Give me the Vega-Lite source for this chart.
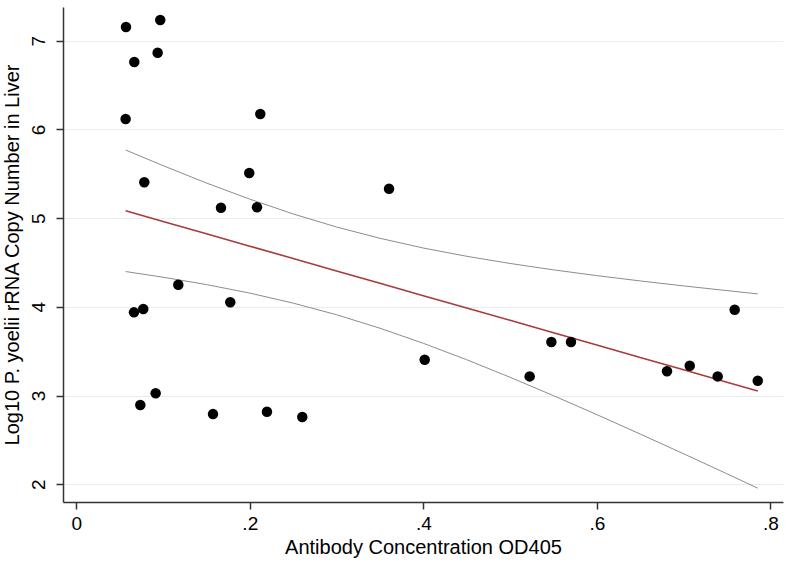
{
  "$schema": "https://vega.github.io/schema/vega-lite/v6.json",
  "width": 720,
  "height": 495,
  "autosize": "none",
  "padding": {"left": 63, "top": 7, "right": 7, "bottom": 62},
  "background": "white",
  "config": {
    "view": {"stroke": null},
    "font": "Liberation Sans",
    "axis": {
      "domainColor": "#333333",
      "domainWidth": 1.5,
      "tickColor": "#333333",
      "tickWidth": 1.5,
      "tickSize": 7,
      "labelColor": "#000000",
      "labelFontSize": 19,
      "titleColor": "#000000",
      "titleFontSize": 20,
      "titleFontWeight": "normal",
      "labelFont": "Liberation Sans",
      "titleFont": "Liberation Sans"
    }
  },
  "datasets": {
    "pts": [
      {"x": 0.0573, "y": 7.155}, {"x": 0.0968, "y": 7.233}, {"x": 0.0669, "y": 6.760},
      {"x": 0.0938, "y": 6.865}, {"x": 0.0569, "y": 6.117}, {"x": 0.2121, "y": 6.174},
      {"x": 0.0784, "y": 5.404}, {"x": 0.1994, "y": 5.508}, {"x": 0.3605, "y": 5.331},
      {"x": 0.1668, "y": 5.117}, {"x": 0.2083, "y": 5.122}, {"x": 0.1176, "y": 4.249},
      {"x": 0.1775, "y": 4.051}, {"x": 0.0665, "y": 3.938}, {"x": 0.0772, "y": 3.975},
      {"x": 0.0738, "y": 2.893}, {"x": 0.0915, "y": 3.025}, {"x": 0.1576, "y": 2.791},
      {"x": 0.2198, "y": 2.817}, {"x": 0.2605, "y": 2.758}, {"x": 0.4016, "y": 3.404},
      {"x": 0.5226, "y": 3.216}, {"x": 0.5476, "y": 3.603}, {"x": 0.5702, "y": 3.603},
      {"x": 0.6809, "y": 3.273}, {"x": 0.7071, "y": 3.336}, {"x": 0.7393, "y": 3.216},
      {"x": 0.7589, "y": 3.967}, {"x": 0.7855, "y": 3.167}
    ],
    "fit": [
      {"x": 0.0569, "fit": 5.083, "lo": 4.398, "hi": 5.768},
      {"x": 0.1, "fit": 4.963, "lo": 4.334, "hi": 5.592},
      {"x": 0.15, "fit": 4.824, "lo": 4.251, "hi": 5.396},
      {"x": 0.2, "fit": 4.684, "lo": 4.155, "hi": 5.214},
      {"x": 0.25, "fit": 4.545, "lo": 4.042, "hi": 5.047},
      {"x": 0.3, "fit": 4.405, "lo": 3.911, "hi": 4.900},
      {"x": 0.35, "fit": 4.266, "lo": 3.759, "hi": 4.773},
      {"x": 0.4, "fit": 4.126, "lo": 3.589, "hi": 4.663},
      {"x": 0.45, "fit": 3.987, "lo": 3.404, "hi": 4.570},
      {"x": 0.5, "fit": 3.848, "lo": 3.206, "hi": 4.489},
      {"x": 0.55, "fit": 3.708, "lo": 2.999, "hi": 4.417},
      {"x": 0.6, "fit": 3.569, "lo": 2.785, "hi": 4.352},
      {"x": 0.65, "fit": 3.429, "lo": 2.566, "hi": 4.292},
      {"x": 0.7, "fit": 3.290, "lo": 2.344, "hi": 4.236},
      {"x": 0.75, "fit": 3.150, "lo": 2.118, "hi": 4.183},
      {"x": 0.7855, "fit": 3.051, "lo": 1.956, "hi": 4.146}
    ]
  },
  "encoding": {
    "x": {
      "field": "x",
      "type": "quantitative",
      "scale": {"domain": [-0.0153, 0.8146], "nice": false, "zero": false},
      "axis": {
        "values": [0, 0.2, 0.4, 0.6, 0.8],
        "grid": false,
        "labelExpr": "datum.value == 0 ? '0' : replace(format(datum.value, '.1f'), '0.', '.')",
        "labelPadding": 5,
        "title": "Antibody Concentration OD405",
        "titlePadding": 4
      }
    }
  },
  "layer": [
    {
      "data": {"name": "fit"},
      "mark": {"type": "line", "color": "#8c8c8c", "strokeWidth": 1},
      "encoding": {
        "y": {
          "field": "lo",
          "type": "quantitative",
          "scale": {"domain": [1.8, 7.38], "nice": false, "zero": false},
          "axis": {
            "values": [2, 3, 4, 5, 6, 7],
            "format": "d",
            "grid": true,
            "gridColor": "#e6eef0",
            "gridWidth": 1,
            "labelAngle": -90,
            "labelPadding": 8,
            "title": "Log10 P. yoelii rRNA Copy Number in Liver",
            "titlePadding": 7
          }
        }
      }
    },
    {
      "data": {"name": "fit"},
      "mark": {"type": "line", "color": "#8c8c8c", "strokeWidth": 1},
      "encoding": {
        "y": {"field": "hi", "type": "quantitative", "title": "Log10 P. yoelii rRNA Copy Number in Liver"}
      }
    },
    {
      "data": {"name": "fit"},
      "mark": {"type": "line", "color": "#a8393c", "strokeWidth": 1.6},
      "encoding": {
        "y": {"field": "fit", "type": "quantitative", "title": "Log10 P. yoelii rRNA Copy Number in Liver"}
      }
    },
    {
      "data": {"name": "pts"},
      "mark": {"type": "circle", "color": "#000000", "opacity": 1, "size": 110},
      "encoding": {
        "y": {"field": "y", "type": "quantitative", "title": "Log10 P. yoelii rRNA Copy Number in Liver"}
      }
    }
  ]
}
